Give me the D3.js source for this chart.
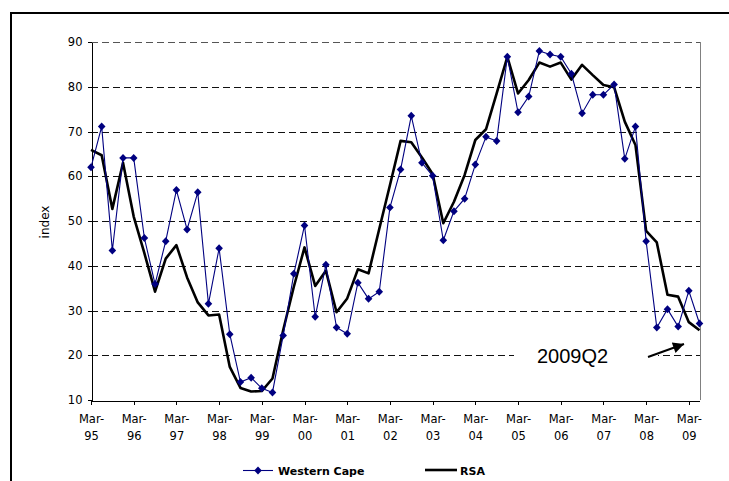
<!DOCTYPE html>
<html lang="en">
<head>
    <meta charset="UTF-8">
    <title>Western Cape vs RSA index</title>
    <script src="https://cdn.jsdelivr.net/npm/d3@7"></script>
    <style>
        body { margin: 0; background: #fff; }
        svg text { font-family: 'DejaVu Sans', sans-serif; fill: #000; }
        .grid line { stroke-dasharray: 7,4; shape-rendering: crispEdges; }
        .axis path, .axis line { stroke: #000; shape-rendering: crispEdges; }
        .axis text { font-size: 11.5px; }
    </style>
</head>
<body>
<script>
    // quarters Mar-95 .. Jun-09
    var years = ['95','96','97','98','99','00','01','02','03','04','05','06','07','08','09'];
    var quarters = ['Mar','Jun','Sep','Dec'];
    var yTicks = [10, 20, 30, 40, 50, 60, 70, 80, 90];

    var westernCape = [62.0, 71.1, 43.4, 64.1, 64.1, 46.2, 35.9, 45.5, 56.9, 48.1,
                       56.4, 31.5, 43.9, 24.7, 14.0, 15.0, 12.6, 11.7, 24.4, 38.2,
                       49.0, 28.6, 40.2, 26.2, 24.8, 36.2, 32.6, 34.2, 53.0, 61.5,
                       73.5, 63.0, 60.1, 45.7, 52.2, 55.0, 62.6, 68.8, 67.9, 86.7,
                       74.3, 77.8, 88.0, 87.2, 86.7, 82.9, 74.1, 78.2, 78.2, 80.5,
                       63.9, 71.1, 45.5, 26.2, 30.3, 26.4, 34.4, 27.1];

    var rsa = [65.9, 64.7, 52.7, 63.0, 51.0, 42.8, 34.2, 41.6, 44.6, 37.4,
               31.8, 28.9, 29.1, 17.4, 12.7, 11.9, 12.0, 14.8, 25.6, 35.3,
               44.1, 35.5, 38.9, 29.6, 32.7, 39.2, 38.3, 48.2, 58.0, 67.9,
               67.6, 64.2, 60.5, 49.5, 54.3, 60.3, 68.1, 70.5, 78.5, 86.7,
               78.5, 81.5, 85.4, 84.5, 85.4, 81.6, 84.9, 82.6, 80.4, 79.9,
               72.2, 67.0, 47.8, 45.2, 33.5, 33.1, 27.4, 25.6];

    var categories = [];
    years.forEach(function(yr) {
        quarters.forEach(function(q) {
            if (categories.length < westernCape.length) categories.push(q + '-' + yr);
        });
    });

    var w = 729, h = 481;
    var plotLeft = 91, plotRight = 700, plotTop = 42, plotBottom = 400;

    var svg = d3.select('body').append('svg')
        .attr('width', w)
        .attr('height', h);

    // outer frame (only top and left edges are visible)
    svg.append('path')
        .attr('d', 'M11,' + h + 'V13H' + w)
        .attr('fill', 'none')
        .attr('stroke', '#000')
        .attr('stroke-width', 2);

    var xScale = d3.scaleLinear()
        .domain([0, categories.length - 1])
        .range([plotLeft, plotRight - 0.5]);

    var yScale = d3.scaleLinear()
        .domain([10, 90])
        .range([plotBottom, plotTop]);

    // dashed gridlines
    svg.append('g')
        .attr('class', 'grid')
        .selectAll('line')
        .data(yTicks.slice(1))
        .enter()
        .append('line')
        .attr('x1', plotLeft)
        .attr('x2', plotRight)
        .attr('y1', function(d) { return Math.round(yScale(d)) + 0.5; })
        .attr('y2', function(d) { return Math.round(yScale(d)) + 0.5; })
        .attr('stroke', function(d) { return d === 90 ? '#555' : '#111'; });

    // right border of plot area
    svg.append('line')
        .attr('x1', plotRight + 0.5).attr('x2', plotRight + 0.5)
        .attr('y1', plotTop).attr('y2', plotBottom)
        .attr('stroke', '#808080')
        .attr('shape-rendering', 'crispEdges');

    // y axis
    var yAxis = d3.axisLeft(yScale)
        .tickValues(yTicks)
        .tickSize(4)
        .tickPadding(5)
        .tickSizeOuter(0);

    svg.append('g')
        .attr('class', 'axis')
        .attr('transform', 'translate(' + (plotLeft + 0.5) + ',0)')
        .call(yAxis);

    // x axis, tick every March
    var marchIdx = d3.range(categories.length).filter(function(i) {
        return categories[i].indexOf('Mar') === 0;
    });

    var xAxis = d3.axisBottom(xScale)
        .tickValues(marchIdx)
        .tickSize(4)
        .tickSizeOuter(0)
        .tickFormat(function(i) { return categories[i]; });

    var gx = svg.append('g')
        .attr('class', 'axis')
        .attr('transform', 'translate(0,' + (plotBottom + 0.5) + ')')
        .call(xAxis);

    // split labels into two lines: "Mar-" / "95"
    gx.selectAll('.tick text')
        .text(null)
        .attr('y', 0)
        .attr('dy', null)
        .each(function(i) {
            var parts = categories[i].split('-');
            var t = d3.select(this);
            t.append('tspan').attr('x', 0).attr('y', 22).text(parts[0] + '-');
            t.append('tspan').attr('x', 0).attr('y', 39).text(parts[1]);
        });

    // y axis title
    svg.append('text')
        .attr('transform', 'translate(49,222) rotate(-90)')
        .attr('text-anchor', 'middle')
        .attr('font-size', '12px')
        .text('index');

    // series lines
    var line = d3.line()
        .x(function(d, i) { return xScale(i); })
        .y(function(d) { return yScale(d); });

    svg.append('path')
        .datum(rsa)
        .attr('d', line)
        .attr('fill', 'none')
        .attr('stroke', '#000')
        .attr('stroke-width', 2.6)
        .attr('stroke-linejoin', 'round');

    svg.append('path')
        .datum(westernCape)
        .attr('d', line)
        .attr('fill', 'none')
        .attr('stroke', '#000080')
        .attr('stroke-width', 1.1);

    var diamond = 'M0,-4L3.8,0L0,4L-3.8,0Z';

    svg.append('g')
        .selectAll('path')
        .data(westernCape)
        .enter()
        .append('path')
        .attr('d', diamond)
        .attr('fill', '#000080')
        .attr('transform', function(d, i) {
            return 'translate(' + xScale(i) + ',' + yScale(d) + ')';
        });

    // annotation box with arrow
    svg.append('rect')
        .attr('x', 514).attr('y', 340)
        .attr('width', 144).attr('height', 30)
        .attr('fill', '#fff');

    svg.append('text')
        .attr('x', 537).attr('y', 363)
        .attr('font-size', '20px')
        .style('font-family', 'Liberation Sans, Arial, sans-serif')
        .text('2009Q2');

    svg.append('defs').append('marker')
        .attr('id', 'arrow')
        .attr('viewBox', '0 0 10 10')
        .attr('refX', 10).attr('refY', 5)
        .attr('markerWidth', 6.5).attr('markerHeight', 5.5)
        .attr('markerUnits', 'strokeWidth')
        .attr('orient', 'auto')
        .append('path')
        .attr('d', 'M0,0L10,5L0,10Z')
        .attr('fill', '#000');

    svg.append('line')
        .attr('x1', 648).attr('y1', 357)
        .attr('x2', 684).attr('y2', 344)
        .attr('stroke', '#000')
        .attr('stroke-width', 2)
        .attr('marker-end', 'url(#arrow)');

    // legend
    var legend = svg.append('g').attr('font-weight', 'bold').attr('font-size', '11px');

    legend.append('line')
        .attr('x1', 243).attr('x2', 273)
        .attr('y1', 470.5).attr('y2', 470.5)
        .attr('stroke', '#000080').attr('stroke-width', 1.1);
    legend.append('path')
        .attr('d', diamond)
        .attr('fill', '#000080')
        .attr('transform', 'translate(258,470.5)');
    legend.append('text')
        .attr('x', 278).attr('y', 475)
        .text('Western Cape');

    legend.append('line')
        .attr('x1', 425).attr('x2', 457)
        .attr('y1', 470).attr('y2', 470)
        .attr('stroke', '#000').attr('stroke-width', 2.6);
    legend.append('text')
        .attr('x', 460).attr('y', 475)
        .text('RSA');
</script>
</body>
</html>
